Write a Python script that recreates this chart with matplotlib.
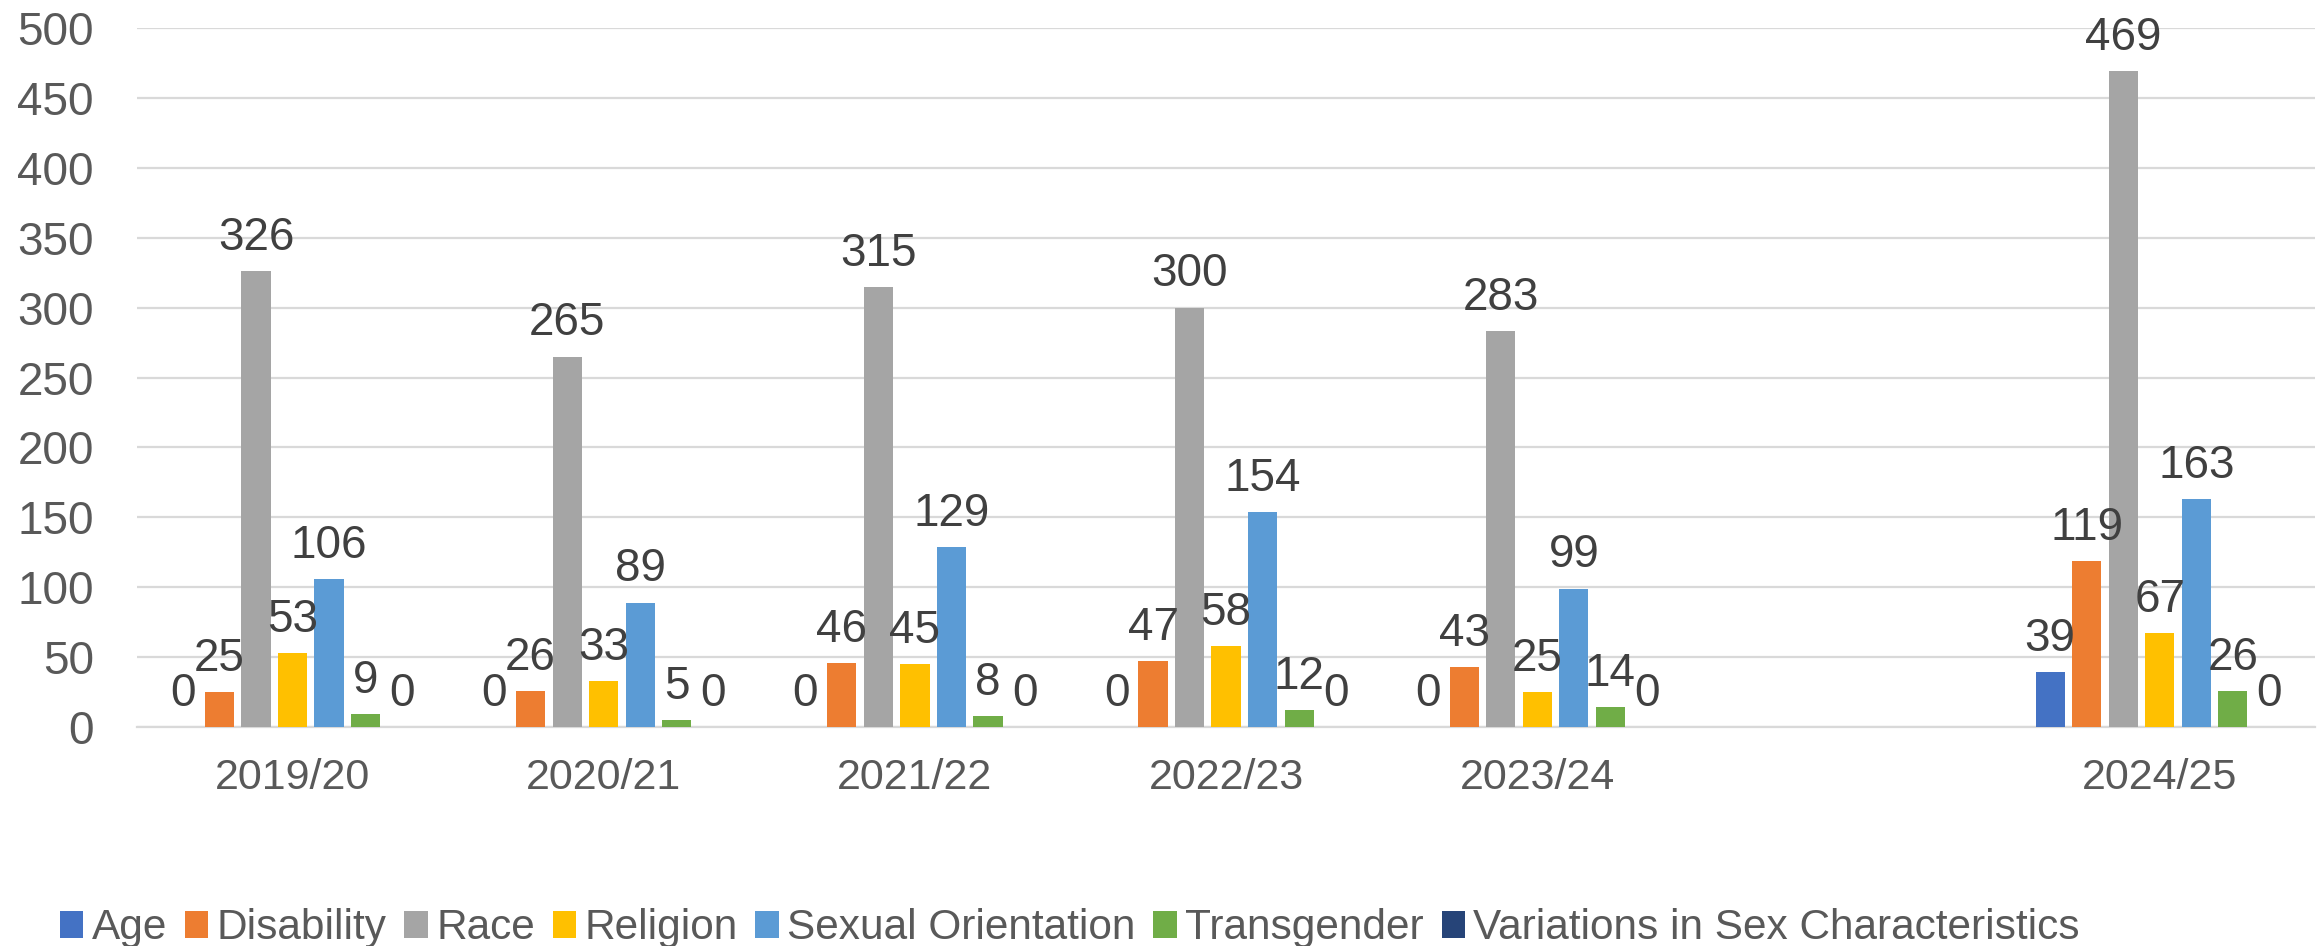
import numpy as np
import matplotlib
matplotlib.use("Agg")
import matplotlib.pyplot as plt

plt.rcParams.update(
    {
        "font.family": ["Liberation Sans", "DejaVu Sans"],
        "axes.unicode_minus": False,
    }
)

years = ["2019/20", "2020/21", "2021/22", "2022/23", "2023/24", "", "2024/25"]
series = ["Age", "Disability", "Race", "Religion", "Sexual Orientation",
          "Transgender", "Variations in Sex Characteristics"]
colors = ["#4472C4", "#ED7D31", "#A5A5A5", "#FFC000", "#5B9BD5", "#70AD47", "#264478"]

# np.nan marks the empty category between 2023/24 and 2024/25
age = [0, 0, 0, 0, 0, np.nan, 39]
disability = [25, 26, 46, 47, 43, np.nan, 119]
race = [326, 265, 315, 300, 283, np.nan, 469]
religion = [53, 33, 45, 58, 25, np.nan, 67]
sexual_orientation = [106, 89, 129, 154, 99, np.nan, 163]
transgender = [9, 5, 8, 12, 14, np.nan, 26]
variations = [0, 0, 0, 0, 0, np.nan, 0]

values = [age, disability, race, religion, sexual_orientation, transgender, variations]

if __name__ == "__main__":
    fig = plt.figure(figsize=(23.2, 9.46), dpi=100)
    ax = fig.add_axes([0.059, 0.2315, 0.939, 0.7389])

    x = np.arange(len(years))
    pitch = 0.1174
    width = 0.094
    for i, (name, vals, c) in enumerate(zip(series, values, colors)):
        vals = np.array(vals, dtype=float)
        mask = ~np.isnan(vals)
        pos = x[mask] + (i - 3) * pitch
        bars = ax.bar(pos, vals[mask], width=width, color=c, label=name, zorder=3)
        texts = ax.bar_label(bars, labels=[f"{v:.0f}" for v in vals[mask]],
                             padding=8, fontsize=33, color="#404040")
        for t in texts:
            t.set_zorder(10)

    ax.set_xlim(-0.5, len(years) - 0.5)
    ax.set_ylim(0, 500)
    ax.set_yticks(np.arange(0, 501, 50))
    ax.set_xticks(x)
    ax.set_xticklabels(years)
    ax.tick_params(axis="y", length=0, pad=31, labelsize=33, labelcolor="#595959")
    ax.tick_params(axis="x", length=0, pad=22, labelsize=31, labelcolor="#595959")
    ax.grid(axis="y", color="#D9D9D9", linewidth=1.6, zorder=0)
    ax.set_axisbelow(True)
    for s in ["top", "right", "left"]:
        ax.spines[s].set_visible(False)
    ax.spines["bottom"].set_color("#D9D9D9")
    ax.spines["bottom"].set_linewidth(1.6)

    leg = fig.legend(loc="center left", bbox_to_anchor=(0.0185, 0.019), ncol=7,
                     frameon=False, fontsize=30.5, handlelength=0.55, handleheight=0.6,
                     handletextpad=0.2, columnspacing=0.42, borderaxespad=0)
    for t in leg.get_texts():
        t.set_color("#595959")

    fig.savefig("out.png", dpi=100)
